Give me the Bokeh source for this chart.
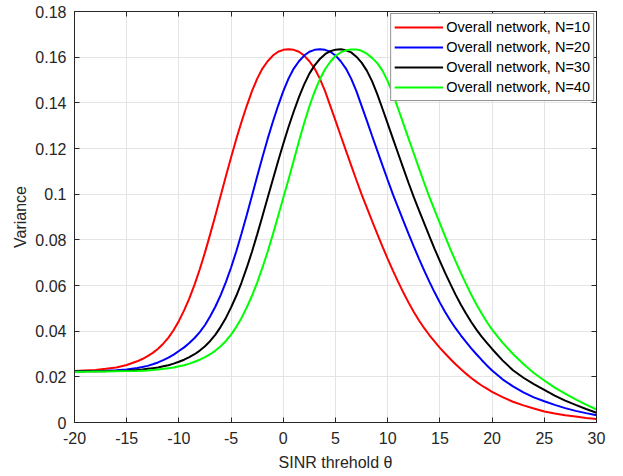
from bokeh.plotting import figure
from bokeh.models import FixedTicker, LinearAxis, Range1d, Legend, LegendItem
from bokeh.embed import file_html
from bokeh.resources import INLINE

# SINR threshold theta (dB) sample positions: 1 dB in the flat tails, 0.5 dB in between
theta = ([-20, -19, -18, -17, -16, -15, -14]
         + [-13.5 + 0.5 * i for i in range(68)]
         + [21, 22, 23, 24, 25, 26, 27, 28, 29, 30])

var_n10 = [0.0226, 0.0228, 0.0230, 0.0235, 0.0241, 0.0252, 0.0268,
           0.0278, 0.0291, 0.0305, 0.0323, 0.0345, 0.0372, 0.0405, 0.0445, 0.0491, 0.0544,
           0.0604, 0.0671, 0.0745, 0.0825, 0.0908, 0.0993, 0.1078, 0.1162, 0.1242, 0.1317,
           0.1387, 0.1451, 0.1506, 0.1550, 0.1582, 0.1607, 0.1624, 0.1632, 0.1635, 0.1632,
           0.1624, 0.1607, 0.1582, 0.1550, 0.1506, 0.1451, 0.1387, 0.1322, 0.1256, 0.1191,
           0.1126, 0.1062, 0.0999, 0.0941, 0.0883, 0.0826, 0.0770, 0.0717, 0.0665, 0.0616,
           0.0569, 0.0525, 0.0484, 0.0447, 0.0413, 0.0382, 0.0354, 0.0327, 0.0302, 0.0278,
           0.0255, 0.0234, 0.0214, 0.0195, 0.0178, 0.0162, 0.0148, 0.0134,
           0.0111, 0.0091, 0.0075, 0.0061, 0.0048, 0.0039, 0.0032, 0.0026, 0.0020, 0.0015]

var_n20 = [0.0225, 0.0225, 0.0226, 0.0227, 0.0229, 0.0232, 0.0239,
           0.0243, 0.0248, 0.0255, 0.0263, 0.0273, 0.0284, 0.0297, 0.0313, 0.0329, 0.0348,
           0.0370, 0.0396, 0.0427, 0.0465, 0.0508, 0.0558, 0.0615, 0.0679, 0.0750, 0.0828,
           0.0909, 0.0993, 0.1078, 0.1162, 0.1242, 0.1317, 0.1387, 0.1451, 0.1506, 0.1550,
           0.1582, 0.1607, 0.1624, 0.1632, 0.1635, 0.1632, 0.1624, 0.1607, 0.1582, 0.1550,
           0.1506, 0.1451, 0.1387, 0.1322, 0.1256, 0.1191, 0.1126, 0.1062, 0.0999, 0.0941,
           0.0883, 0.0826, 0.0770, 0.0717, 0.0665, 0.0616, 0.0569, 0.0525, 0.0484, 0.0447,
           0.0413, 0.0382, 0.0353, 0.0325, 0.0299, 0.0274, 0.0250, 0.0228,
           0.0189, 0.0158, 0.0132, 0.0110, 0.0093, 0.0077, 0.0063, 0.0051, 0.0041, 0.0032]

var_n30 = [0.0224, 0.0224, 0.0225, 0.0225, 0.0226, 0.0227, 0.0230,
           0.0232, 0.0235, 0.0238, 0.0241, 0.0246, 0.0251, 0.0258, 0.0266, 0.0275, 0.0286,
           0.0299, 0.0315, 0.0334, 0.0357, 0.0385, 0.0419, 0.0458, 0.0504, 0.0555, 0.0613,
           0.0678, 0.0748, 0.0824, 0.0903, 0.0984, 0.1064, 0.1144, 0.1221, 0.1294, 0.1362,
           0.1425, 0.1481, 0.1528, 0.1564, 0.1592, 0.1613, 0.1626, 0.1633, 0.1635, 0.1630,
           0.1621, 0.1602, 0.1576, 0.1541, 0.1495, 0.1438, 0.1374, 0.1309, 0.1243, 0.1178,
           0.1113, 0.1049, 0.0987, 0.0929, 0.0872, 0.0815, 0.0759, 0.0707, 0.0655, 0.0607,
           0.0560, 0.0517, 0.0477, 0.0440, 0.0407, 0.0376, 0.0349, 0.0322,
           0.0272, 0.0229, 0.0196, 0.0168, 0.0143, 0.0118, 0.0096, 0.0077, 0.0059, 0.0043]

var_n40 = [0.0222, 0.0222, 0.0223, 0.0223, 0.0224, 0.0225, 0.0226,
           0.0227, 0.0228, 0.0230, 0.0232, 0.0235, 0.0238, 0.0241, 0.0246, 0.0251, 0.0258,
           0.0266, 0.0275, 0.0286, 0.0299, 0.0315, 0.0334, 0.0357, 0.0385, 0.0419, 0.0458,
           0.0504, 0.0555, 0.0613, 0.0678, 0.0748, 0.0824, 0.0903, 0.0984, 0.1064, 0.1148,
           0.1232, 0.1312, 0.1385, 0.1449, 0.1503, 0.1547, 0.1580, 0.1605, 0.1621, 0.1630,
           0.1634, 0.1634, 0.1628, 0.1615, 0.1597, 0.1574, 0.1541, 0.1495, 0.1438, 0.1374,
           0.1309, 0.1243, 0.1178, 0.1113, 0.1049, 0.0987, 0.0929, 0.0872, 0.0815, 0.0759,
           0.0707, 0.0655, 0.0607, 0.0560, 0.0517, 0.0477, 0.0440, 0.0407,
           0.0350, 0.0300, 0.0256, 0.0217, 0.0184, 0.0153, 0.0126, 0.0101, 0.0078, 0.0057]

series_names = ["Overall network, N=10", "Overall network, N=20",
                "Overall network, N=30", "Overall network, N=40"]
series_colors = ["#ff0000", "#0000ff", "#000000", "#00ff00"]

x_ticks = [-20, -15, -10, -5, 0, 5, 10, 15, 20, 25, 30]
x_tick_labels = ["-20", "-15", "-10", "-5", "0", "5", "10", "15", "20", "25", "30"]
y_ticks = [0, 0.02, 0.04, 0.06, 0.08, 0.1, 0.12, 0.14, 0.16, 0.18]
y_tick_labels = ["0", "0.02", "0.04", "0.06", "0.08", "0.1", "0.12", "0.14", "0.16", "0.18"]

FONT = "Liberation Sans"
DARK = "#262626"
GRID = "#e4e4e4"

p = figure(frame_width=522, frame_height=411,
           x_range=Range1d(-20, 30), y_range=Range1d(0, 0.18),
           output_backend="svg", toolbar_location=None,
           min_border_left=74, min_border_right=27,
           min_border_top=11, min_border_bottom=54,
           background_fill_color="white", border_fill_color="white")

p.outline_line_color = DARK
p.outline_line_width = 1

def style_axis(ax, ticks, labels, show_labels, standoff=8):
    ax.ticker = FixedTicker(ticks=ticks)
    ax.major_label_overrides = {t: l for t, l in zip(ticks, labels)} if show_labels else {}
    ax.major_tick_in = 5
    ax.major_tick_out = 0
    ax.minor_tick_in = 0
    ax.minor_tick_out = 0
    ax.axis_line_color = DARK
    ax.major_tick_line_color = DARK
    ax.major_label_text_font = FONT
    if show_labels:
        ax.major_label_text_font_size = "16px"
        ax.major_label_text_color = DARK
        ax.major_label_standoff = standoff
    else:
        ax.major_label_text_font_size = "0px"
        ax.major_label_text_color = None
        ax.major_label_standoff = 0

xa = p.xaxis[0]
ya = p.yaxis[0]
style_axis(xa, x_ticks, x_tick_labels, True, standoff=9)
style_axis(ya, y_ticks, y_tick_labels, True, standoff=8)
xa.axis_label = "SINR threhold \u03b8"
ya.axis_label = "Variance"
for ax in (xa, ya):
    ax.axis_label_text_font = FONT
    ax.axis_label_text_font_size = "16px"
    ax.axis_label_text_font_style = "normal"
    ax.axis_label_text_color = DARK
xa.axis_label_standoff = 7
ya.axis_label_standoff = 3

top_ax = LinearAxis()
right_ax = LinearAxis()
style_axis(top_ax, x_ticks, x_tick_labels, False)
style_axis(right_ax, y_ticks, y_tick_labels, False)
p.add_layout(top_ax, "above")
p.add_layout(right_ax, "right")

p.xgrid.ticker = FixedTicker(ticks=x_ticks)
p.ygrid.ticker = FixedTicker(ticks=y_ticks)
p.xgrid.grid_line_color = GRID
p.ygrid.grid_line_color = GRID

items = []
for vals, name, col in zip([var_n10, var_n20, var_n30, var_n40], series_names, series_colors):
    r = p.line(theta, vals, line_color=col, line_width=2)
    items.append(LegendItem(label=name, renderers=[r]))

legend = Legend(items=items, location="top_right")
legend.margin = 2
legend.padding = 3
legend.spacing = 0
legend.glyph_width = 49
legend.glyph_height = 20
legend.label_height = 20
legend.label_standoff = 3
legend.label_text_font = FONT
legend.label_text_font_size = "14.5px"
legend.label_text_color = "#000000"
legend.border_line_color = DARK
legend.border_line_width = 1
legend.background_fill_color = "white"
legend.background_fill_alpha = 1
p.add_layout(legend)

open("out.html", "w").write(file_html(p, INLINE))
